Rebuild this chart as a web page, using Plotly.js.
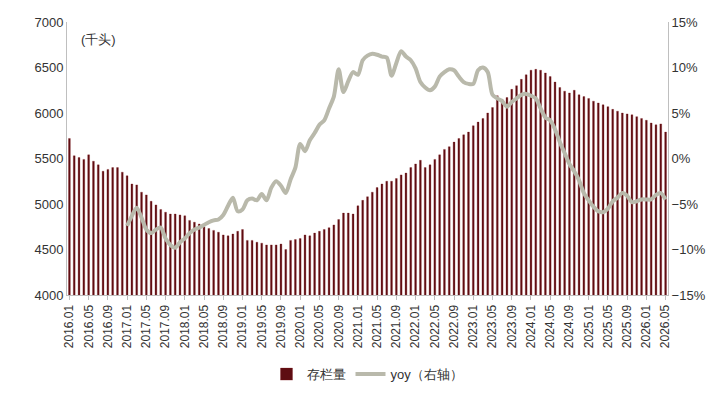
<!DOCTYPE html>
<html>
<head>
<meta charset="utf-8">
<script src="https://cdn.plot.ly/plotly-3.0.1.min.js"></script>
<style>body{margin:0;background:#fff}#plot{width:724px;height:401px}</style>
</head>
<body>
<div id="plot"></div>
<script>
// Monthly categories 2016.01 - 2026.05
const months = [];
for (let y = 2016; y <= 2026; y++) {
    for (let m = 1; m <= 12; m++) {
        if (y === 2026 && m > 5) break;
        months.push(y + '.' + String(m).padStart(2, '0'));
    }
}

// 存栏量 (千头)
const stock = [
    5720, 5530, 5510, 5490, 5540, 5470, 5430, 5360, 5380, 5400, 5400, 5350,
    5310, 5220, 5210, 5130, 5100, 5030, 4990, 4940, 4910, 4890, 4890, 4880,
    4870, 4820, 4800, 4780, 4750, 4730, 4710, 4690, 4660, 4650, 4670, 4700,
    4720, 4600, 4600, 4580, 4570, 4550, 4550, 4550, 4560, 4500, 4600, 4610,
    4620, 4660, 4650, 4680, 4700, 4720, 4740, 4770, 4830, 4900, 4900, 4890,
    4980, 5040, 5080, 5130, 5180, 5220, 5250, 5250, 5280, 5320, 5340, 5400,
    5440, 5480, 5400, 5430, 5490, 5540, 5600, 5630, 5680, 5720, 5760, 5790,
    5860, 5900, 5940, 6000, 6060, 6190, 6150, 6170, 6260, 6300, 6370, 6420,
    6470, 6480, 6470, 6440, 6400, 6340, 6280, 6240, 6220, 6250, 6200, 6180,
    6160, 6130, 6110, 6090, 6070, 6040, 6020, 6000, 5990, 5980, 5960, 5940,
    5920, 5890, 5870, 5880, 5790
];

// yoy (%) from 2017.01
const yoy = [
    -7.4, -6.3, -5.4, -6.5, -7.8, -8.2, -7.8, -7.6, -8.8, -9.5, -9.8, -9.2,
    -8.8, -8.2, -7.8, -7.6, -7.3, -7.0, -6.8, -6.7, -6.2, -5.2, -4.3, -5.8,
    -5.6, -4.6, -4.4, -4.6, -3.9, -4.6, -3.2, -2.5, -3.0, -3.8, -2.3, -1.0,
    1.6, 0.8, 2.0, 2.8, 3.7, 4.2, 5.5, 6.8, 9.8, 7.3, 8.5, 9.5,
    9.2, 10.8, 11.3, 11.5, 11.4, 11.2, 11.1, 9.1, 10.5, 11.8, 11.2, 10.8,
    9.9, 8.4, 7.8, 7.5, 7.9, 9.0, 9.5, 9.8, 9.7, 9.0, 8.4, 8.2,
    8.2, 9.7, 10.0, 9.5, 7.0, 6.6, 6.3, 5.7, 6.2, 6.6, 7.0, 7.1,
    6.9, 6.6, 5.5, 4.5, 4.2, 3.2, 1.8, 0.6, -0.6, -1.4, -2.4, -3.8,
    -4.6, -5.3, -5.8, -5.9, -5.5, -4.7, -4.3, -3.8, -4.1, -4.8, -4.7, -4.5,
    -4.5, -4.5, -4.0, -3.8, -4.5
];
const yoyMonths = months.slice(12);

const tickLabels = months.filter((m, i) => i % 4 === 0);

const font = { family: 'Arial, Liberation Sans, sans-serif', size: 13, color: '#333' };

const data = [
    {
        x: months, y: stock, type: 'bar', name: '存栏量',
        marker: { color: '#5e0d12', line: { color: '#7a1419', width: 0.3 } }
    },
    {
        x: yoyMonths, y: yoy, type: 'scatter', mode: 'lines', name: 'yoy（右轴）',
        yaxis: 'y2', line: { color: '#b9b9ab', width: 4, shape: 'spline', smoothing: 0.8 }
    }
];

const layout = {
    width: 724, height: 401,
    margin: { l: 67, r: 56, t: 22, b: 95 },
    paper_bgcolor: 'white', plot_bgcolor: 'white',
    font: font,
    bargap: 0.62,
    showlegend: true,
    legend: { orientation: 'h', x: 0.5, xanchor: 'center', y: -0.29, yanchor: 'middle', font: { size: 13, color: '#333' } },
    xaxis: {
        type: 'category', tickmode: 'array', tickvals: tickLabels, ticktext: tickLabels,
        tickangle: -90, showgrid: false, showline: true, linecolor: '#bfbfbf', automargin: false,
        ticks: 'outside', ticklen: 4, tickcolor: '#bfbfbf', tickfont: { size: 12, color: '#333' }
    },
    yaxis: {
        range: [4000, 7000], dtick: 500, showgrid: false, showline: true, linecolor: '#bfbfbf',
        zeroline: false, automargin: false, tickfont: { size: 13, color: '#333' }
    },
    yaxis2: {
        overlaying: 'y', side: 'right', range: [-15, 15], dtick: 5, ticksuffix: '%',
        showgrid: false, showline: true, linecolor: '#bfbfbf', zeroline: false, automargin: false,
        tickfont: { size: 13, color: '#333' }
    },
    annotations: [{
        text: '(千头)', xref: 'paper', yref: 'paper', x: 0.02, y: 0.97,
        xanchor: 'left', yanchor: 'top', showarrow: false, font: { size: 13, color: '#333' }
    }]
};

Plotly.newPlot('plot', data, layout, { displayModeBar: false });
</script>
</body>
</html>
